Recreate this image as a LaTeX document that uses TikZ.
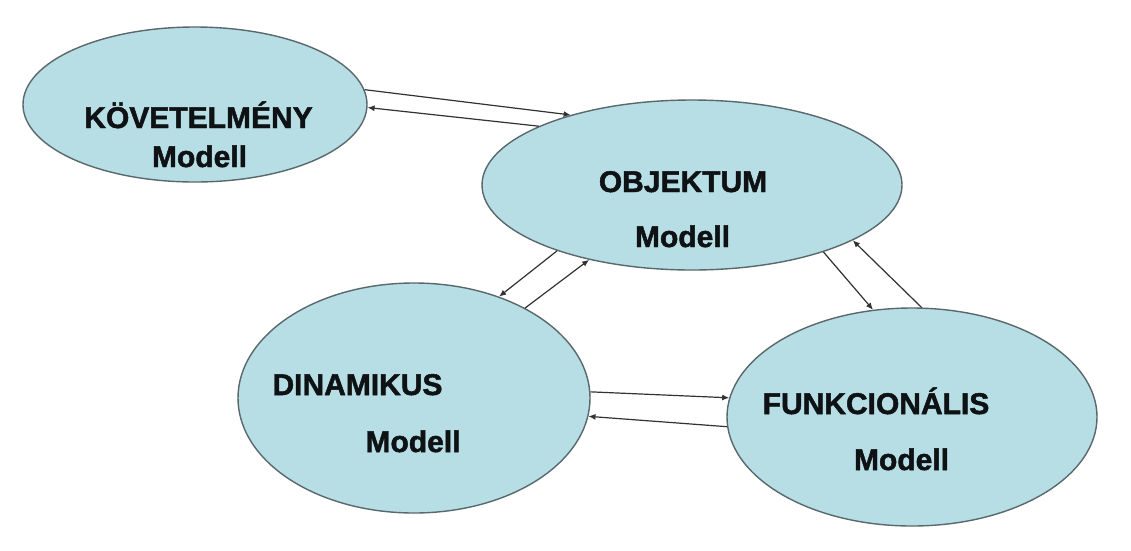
\documentclass[tikz,border=0pt]{standalone}
\usepackage{fontspec}
\setmainfont{Liberation Sans}[BoldFeatures={FakeBold=1.6}]
\usetikzlibrary{shapes.geometric,arrows.meta}
\definecolor{modelfill}{RGB}{183,222,228}
\definecolor{modelline}{RGB}{88,104,108}
\definecolor{linkline}{RGB}{50,50,50}
\definecolor{labelink}{RGB}{15,18,20}
\begin{document}
\begin{tikzpicture}[x=1pt,y=-1pt,
  model/.style={ellipse,draw=modelline,fill=modelfill,line width=1.4pt,inner sep=0pt},
  label/.style={anchor=base,text=labelink,font=\fontsize{30}{36}\selectfont\bfseries,inner sep=0pt},
  link/.style={draw=linkline,line width=1.2pt,-{Latex[length=7pt,width=6pt]}}]
\useasboundingbox[fill=white] (0,0) rectangle (1131,550);

% the four model ellipses
\node[model,minimum width=344pt,minimum height=155pt] (kov) at (195,104.5) {};
\node[model,minimum width=420pt,minimum height=170pt] (obj) at (692,185) {};
\node[model,minimum width=352pt,minimum height=230pt] (din) at (414,398) {};
\node[model,minimum width=370pt,minimum height=218pt] (fun) at (912,417) {};

% labels
\node[label] (kovT) at (198.5,128) {KÖVETELMÉNY};
\node[label] (kovM) at (199.5,167) {Modell};
\node[label] (objT) at (683,192) {OBJEKTUM};
\node[label] (objM) at (682.5,247) {Modell};
\node[label] (dinT) at (357.5,395) {DINAMIKUS};
\node[label] (dinM) at (413,452) {Modell};
\node[label] (funT) at (876,414) {FUNKCIONÁLIS};
\node[label] (funM) at (901.5,470) {Modell};

% paired connectors
\draw[link] (kov.5.7) -- (obj.150.8);
\draw[link] (obj.159.7) -- (kov.-1);
\draw[link] (obj.206.7) -- (din.50.6);
\draw[link] (din.39.2) -- (obj.216.9);
\draw[link] (obj.333.3) -- (fun.110.3);
\draw[link] (fun.85.7) -- (obj.341.6);
\draw[link] (din.2.9) -- (fun.174.4);
\draw[link] (fun.183.6) -- (din.-6.6);
\end{tikzpicture}
\end{document}
